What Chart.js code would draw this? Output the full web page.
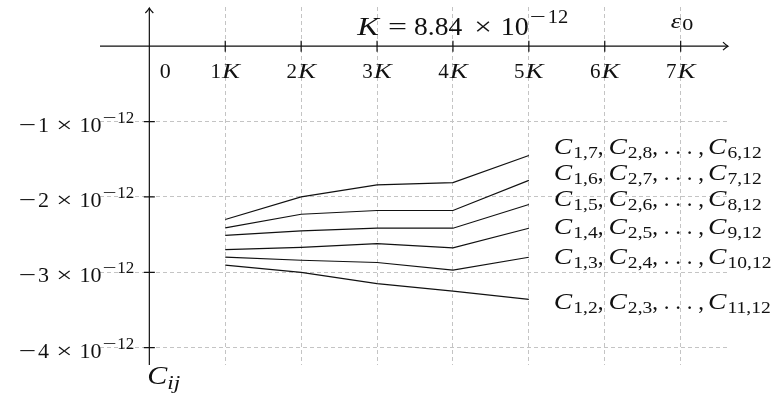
<!DOCTYPE html>
<html>
<head>
<meta charset="utf-8">
<script src="https://cdn.jsdelivr.net/npm/chart.js@4"></script>
<style>
  body { margin: 0; background: #fff; }
  canvas { display: block; }
</style>
</head>
<body>
<canvas id="chart" width="772" height="394"></canvas>
<script>
// x positions in multiples of K, y values in farad
const kSteps = [1, 2, 3, 4, 5];
const c17 = [-2.30e-12, -2.00e-12, -1.84e-12, -1.81e-12, -1.45e-12];
const c16 = [-2.41e-12, -2.23e-12, -2.18e-12, -2.18e-12, -1.78e-12];
const c15 = [-2.51e-12, -2.45e-12, -2.415e-12, -2.415e-12, -2.10e-12];
const c14 = [-2.70e-12, -2.67e-12, -2.62e-12, -2.675e-12, -2.415e-12];
const c13 = [-2.80e-12, -2.84e-12, -2.87e-12, -2.97e-12, -2.80e-12];
const c12 = [-2.905e-12, -3.00e-12, -3.15e-12, -3.25e-12, -3.36e-12];

const xTicks = [0, 1, 2, 3, 4, 5, 6, 7];
const yTicks = [-1e-12, -2e-12, -3e-12, -4e-12];
const yMantissa = ['1', '2', '3', '4'];

// subscripts for "C_a, C_b, ..., C_c" next to each curve
const seriesSubs = [
  ['1,7', '2,8', '6,12'],
  ['1,6', '2,7', '7,12'],
  ['1,5', '2,6', '8,12'],
  ['1,4', '2,5', '9,12'],
  ['1,3', '2,4', '10,12'],
  ['1,2', '2,3', '11,12']
];
const seriesValues = [c17, c16, c15, c14, c13, c12];

const SERIF = '"Liberation Serif", "DejaVu Serif", serif';
const rm = s => s + 'px ' + SERIF;
const it = s => 'italic ' + s + 'px ' + SERIF;

// parts are [text, font, dy, gapAfter, xStretch]
function partWidth(ctx, p) {
  ctx.font = p[1];
  return ctx.measureText(p[0]).width * (p[4] || 1) + (p[3] || 0);
}

function drawRun(ctx, parts, x, y, align) {
  const w = parts.reduce((s, p) => s + partWidth(ctx, p), 0);
  let cx = align === 'right' ? x - w : align === 'center' ? x - w / 2 : x;
  ctx.textAlign = 'left';
  ctx.textBaseline = 'alphabetic';
  parts.forEach(p => {
    ctx.save();
    ctx.font = p[1];
    ctx.translate(cx, y + (p[2] || 0));
    ctx.scale(p[4] || 1, 1);
    ctx.fillText(p[0], 0, 0);
    ctx.restore();
    cx += partWidth(ctx, p);
  });
}

function curveLabel(subs) {
  return [
    ['C', it(23), 0, 1, 1.2], [subs[0], rm(17), 4, 0, 1.15], [',', rm(23), 0, 5],
    ['C', it(23), 0, 1, 1.2], [subs[1], rm(17), 4, 0, 1.15], [', . . . ,', rm(23), 0, 4],
    ['C', it(23), 0, 1, 1.2], [subs[2], rm(17), 4, 0, 1.15]
  ];
}

const axesPlugin = {
  id: 'texAxes',
  afterDraw(chart) {
    const ctx = chart.ctx;
    const xs = chart.scales.x, ys = chart.scales.y;
    const area = chart.chartArea;
    const x0 = xs.getPixelForValue(0);
    const y0 = ys.getPixelForValue(0);
    ctx.save();
    ctx.strokeStyle = '#111';
    ctx.fillStyle = '#111';
    ctx.lineWidth = 1.2;

    // axes
    ctx.beginPath();
    ctx.moveTo(area.left, y0); ctx.lineTo(area.right - 2, y0);
    ctx.moveTo(x0, area.bottom); ctx.lineTo(x0, area.top + 1);
    ctx.stroke();
    // arrow heads
    ctx.beginPath();
    ctx.moveTo(area.right - 7, y0 - 4); ctx.quadraticCurveTo(area.right - 4, y0 - 1, area.right - 2, y0);
    ctx.quadraticCurveTo(area.right - 4, y0 + 1, area.right - 7, y0 + 4);
    ctx.moveTo(x0 - 4, area.top + 6); ctx.quadraticCurveTo(x0 - 1, area.top + 3, x0, area.top + 1);
    ctx.quadraticCurveTo(x0 + 1, area.top + 3, x0 + 4, area.top + 6);
    ctx.stroke();

    // tick marks
    ctx.beginPath();
    xTicks.forEach(v => {
      if (v === 0) return;
      const px = xs.getPixelForValue(v);
      ctx.moveTo(px, y0 - 5.5); ctx.lineTo(px, y0 + 5.5);
    });
    yTicks.forEach(v => {
      const py = ys.getPixelForValue(v);
      ctx.moveTo(x0 - 5.5, py); ctx.lineTo(x0 + 5.5, py);
    });
    ctx.stroke();

    // x tick labels
    xTicks.forEach(v => {
      const px = xs.getPixelForValue(v);
      if (v === 0) {
        drawRun(ctx, [['0', rm(20), 0, 0, 1.1]], px + 16, y0 + 32, 'center');
      } else {
        drawRun(ctx, [[String(v), rm(20), 0, 1, 1.05], ['K', it(20), 0, 0, 1.35]], px, y0 + 32, 'center');
      }
    });

    // y tick labels
    yTicks.forEach((v, i) => {
      const py = ys.getPixelForValue(v);
      drawRun(ctx, [
        ['−', rm(22), 0, 2, 1.4], [yMantissa[i], rm(22)], [' × ', rm(22), 0, 0, 1.3], ['10', rm(22), 0, 1],
        ['−', rm(17), -9, 1, 1.45], ['12', rm(17), -9]
      ], x0 - 15, py + 10, 'right');
    });

    // constant and axis names
    drawRun(ctx, [
      ['K', it(25), 0, 9, 1.3], ['=', rm(25), 0, 7, 1.35], ['8.84', rm(25), 0, 12, 1.1],
      ['×', rm(25), 0, 9, 1.25], ['10', rm(25), 0, 1, 1.12], ['−', rm(19), -12, 2, 1.5], ['12', rm(19), -12, 0, 1.08]
    ], xs.getPixelForValue(2.74), y0 - 11, 'left');
    drawRun(ctx, [['ε', it(21), 0, 1, 1.25], ['0', rm(17), 2, 0, 1.3]], xs.getPixelForValue(6.87), y0 - 18, 'left');
    drawRun(ctx, [['C', it(25), 0, 0, 1.2], ['ij', it(18), 5, 0, 1.3]], x0 - 2, area.bottom + 19, 'left');

    // curve labels next to the 5K end points
    const offs = [-1, 0, 2, 6, 7, 10];
    seriesSubs.forEach((subs, i) => {
      const vals = seriesValues[i];
      const py = ys.getPixelForValue(vals[vals.length - 1]) + offs[i];
      const lx = xs.getPixelForValue(kSteps[kSteps.length - 1]) + 25;
      drawRun(ctx, curveLabel(subs), lx, py, 'left');
    });
    ctx.restore();
  }
};

new Chart(document.getElementById('chart'), {
  type: 'line',
  data: {
    datasets: seriesValues.map((vals, i) => ({
      label: 'C' + seriesSubs[i][0],
      data: kSteps.map((k, j) => ({ x: k, y: vals[j] })),
      borderColor: '#111',
      borderWidth: 1.2,
      pointRadius: 0,
      tension: 0,
      fill: false
    }))
  },
  options: {
    responsive: false,
    animation: false,
    layout: { padding: { left: 100, right: 42, top: 7, bottom: 29 } },
    plugins: { legend: { display: false }, tooltip: { enabled: false } },
    scales: {
      x: {
        type: 'linear',
        min: -0.65,
        max: 7.65,
        afterBuildTicks: s => { s.ticks = xTicks.map(v => ({ value: v })); },
        ticks: { display: false },
        grid: {
          drawTicks: false,
          lineWidth: 1,
          color: c => (c.tick && c.tick.value === 0) ? 'rgba(0,0,0,0)' : '#c4c4c4'
        },
        border: { display: false, dash: [4, 3] }
      },
      y: {
        type: 'linear',
        min: -4.23e-12,
        max: 0.52e-12,
        afterBuildTicks: s => { s.ticks = yTicks.map(v => ({ value: v })); },
        ticks: { display: false },
        grid: { drawTicks: false, lineWidth: 1, color: '#c4c4c4' },
        border: { display: false, dash: [4, 3] }
      }
    }
  },
  plugins: [axesPlugin]
});
</script>
</body>
</html>
